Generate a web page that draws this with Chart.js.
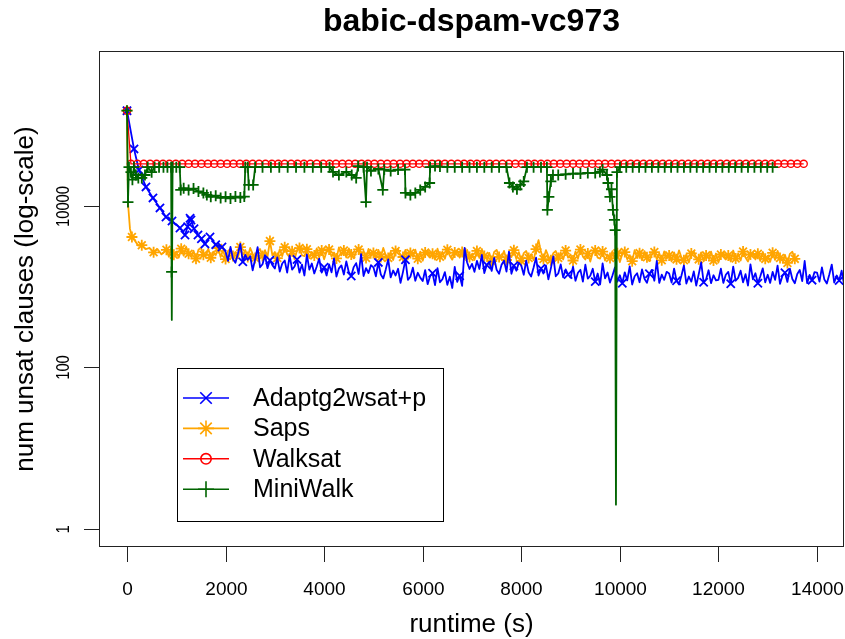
<!DOCTYPE html>
<html>
<head>
<meta charset="utf-8">
<title>babic-dspam-vc973</title>
<script src="https://cdn.jsdelivr.net/npm/chart.js@4.4.1/dist/chart.umd.min.js"></script>
<style>
  html, body { margin: 0; padding: 0; background: #fff; }
  canvas { display: block; }
</style>
</head>
<body>
<canvas id="chart" width="845" height="639"></canvas>
<script>
// Adaptg2wsat+p : temps (s) et nombre de clauses non satisfaites
const adaptTimes = [
  0, 142, 243, 385, 527, 669, 791, 913, 1075, 1177, 1230, 1280, 1298, 1360, 1440, 1510, 1582, 1684, 1800, 1927,
  2000, 2050, 2100, 2150, 2200, 2250, 2300, 2350, 2400, 2450, 2500, 2550, 2600, 2650, 2700, 2750, 2800, 2850, 2900, 2950,
  3000, 3050, 3100, 3150, 3200, 3250, 3300, 3350, 3400, 3450, 3500, 3550, 3600, 3650, 3700, 3750, 3800, 3850, 3900, 3950,
  4000, 4050, 4100, 4150, 4200, 4250, 4300, 4350, 4400, 4450, 4500, 4550, 4600, 4650, 4700, 4750, 4800, 4850, 4900, 4950,
  5000, 5050, 5100, 5150, 5200, 5250, 5300, 5350, 5400, 5450, 5500, 5550, 5600, 5650, 5700, 5750, 5800, 5850, 5900, 5950,
  6000, 6050, 6100, 6150, 6200, 6250, 6300, 6350, 6400, 6450, 6500, 6550, 6600, 6650, 6700, 6750, 6800, 6850, 6900, 6950,
  7000, 7050, 7100, 7150, 7200, 7250, 7300, 7350, 7400, 7450, 7500, 7550, 7600, 7650, 7700, 7750, 7800, 7850, 7900, 7950,
  8000, 8050, 8100, 8150, 8200, 8250, 8300, 8350, 8400, 8450, 8500, 8550, 8600, 8650, 8700, 8750, 8800, 8850, 8900, 8950,
  9000, 9050, 9100, 9150, 9200, 9250, 9300, 9350, 9400, 9450, 9500, 9550, 9600, 9650, 9700, 9750, 9800, 9850, 9900, 9950,
  10000, 10050, 10100, 10150, 10200, 10250, 10300, 10350, 10400, 10450, 10500, 10550, 10600, 10650, 10700, 10750, 10800, 10850, 10900, 10950,
  11000, 11050, 11100, 11150, 11200, 11250, 11300, 11350, 11400, 11450, 11500, 11550, 11600, 11650, 11700, 11750, 11800, 11850, 11900, 11950,
  12000, 12050, 12100, 12150, 12200, 12250, 12300, 12350, 12400, 12450, 12500, 12550, 12600, 12650, 12700, 12750, 12800, 12850, 12900, 12950,
  13000, 13050, 13100, 13150, 13200, 13250, 13300, 13350, 13400, 13450, 13500, 13550, 13600, 13650, 13700, 13750, 13800, 13850, 13900, 13950,
  14000, 14050, 14100, 14150, 14200, 14250, 14300, 14350, 14400, 14450, 14500, 14550
];
const adaptValues = [
  150000, 50500, 27700, 17100, 12500, 9400, 7270, 6480, 5310, 4350, 5500, 7000, 6670, 5200, 4350, 3900, 3370, 4110, 3300, 3090,
  2690, 2080, 3100, 2200, 1970, 2540, 3380, 2020, 2470, 2140, 2370, 1590, 2180, 3070, 1730, 1890, 2440, 1690, 2120, 1840,
  1670, 2290, 1530, 1930, 2100, 1490, 2420, 1620, 1770, 2160, 1490, 1870, 1370, 2490, 1620, 1930, 1450, 1770, 2220, 1490,
  1730, 1370, 1880, 1500, 2230, 1330, 1680, 1830, 1410, 2050, 1510, 1350, 1740, 1950, 1430, 2520, 1350, 1690, 1470, 1840,
  1730, 1340, 1990, 1410, 1260, 1630, 2170, 1300, 1580, 1370, 1660, 1110, 1520, 2150, 1210, 1320, 1710, 1180, 1480, 1290,
  1170, 1600, 1070, 1340, 1460, 1040, 1690, 1130, 1230, 1510, 1050, 1320, 960, 1750, 1140, 1360, 1020, 3000, 2000, 1650,
  1910, 1520, 2080, 1650, 2460, 1470, 1850, 2020, 1560, 2260, 1610, 1440, 1860, 2090, 1530, 2700, 1440, 1810, 1570, 1970,
  1820, 1400, 2090, 1490, 1330, 1720, 2280, 1370, 1670, 1450, 1830, 1230, 1680, 2360, 1340, 1450, 1880, 1300, 1630, 1410,
  1290, 1760, 1180, 1480, 1610, 1150, 1860, 1250, 1360, 1660, 1150, 1450, 1060, 1930, 1260, 1490, 1120, 1370, 1720, 1150,
  1380, 1100, 1500, 1190, 1780, 1060, 1340, 1460, 1130, 1630, 1250, 1110, 1440, 1610, 1180, 2080, 1110, 1400, 1210, 1520,
  1450, 1120, 1670, 1180, 1060, 1370, 1820, 1090, 1330, 1150, 1540, 1030, 1420, 1990, 1130, 1230, 1590, 1100, 1380, 1190,
  1210, 1660, 1110, 1400, 1520, 1080, 1760, 1180, 1280, 1570, 1130, 1420, 1030, 1880, 1230, 1460, 1100, 1340, 1680, 1130,
  1400, 1110, 1520, 1210, 1810, 1080, 1360, 1480, 1140, 1660, 1240, 1100, 1430, 1600, 1170, 2070, 1100, 1390, 1200, 1510,
  1490, 1150, 1720, 1220, 1090, 1410, 1870, 1120, 1370, 1190, 1570, 1050
];

// Saps
const sapsTimes = [
  0, 20, 60, 100, 160, 230, 300, 380, 460, 540, 620, 700,
  800, 850, 900, 950, 1000, 1050, 1100, 1150, 1200, 1250, 1300, 1350, 1400, 1450, 1500, 1550, 1600, 1650, 1700, 1750,
  1800, 1850, 1900, 1950, 2000, 2050, 2100, 2150, 2200, 2250, 2300, 2350, 2400, 2450, 2500, 2550, 2600, 2650, 2700, 2750,
  2800, 2850, 2900, 2950, 3000, 3050, 3100, 3150, 3200, 3250, 3300, 3350, 3400, 3450, 3500, 3550, 3600, 3650, 3700, 3750,
  3800, 3850, 3900, 3950, 4000, 4050, 4100, 4150, 4200, 4250, 4300, 4350, 4400, 4450, 4500, 4550, 4600, 4650, 4700, 4750,
  4800, 4850, 4900, 4950, 5000, 5050, 5100, 5150, 5200, 5250, 5300, 5350, 5400, 5450, 5500, 5550, 5600, 5650, 5700, 5750,
  5800, 5850, 5900, 5950, 6000, 6050, 6100, 6150, 6200, 6250, 6300, 6350, 6400, 6450, 6500, 6550, 6600, 6650, 6700, 6750,
  6800, 6850, 6900, 6950, 7000, 7050, 7100, 7150, 7200, 7250, 7300, 7350, 7400, 7450, 7500, 7550, 7600, 7650, 7700, 7750,
  7800, 7850, 7900, 7950, 8000, 8050, 8100, 8150, 8200, 8250, 8300, 8350, 8400, 8450, 8500, 8550, 8600, 8650, 8700, 8750,
  8800, 8850, 8900, 8950, 9000, 9050, 9100, 9150, 9200, 9250, 9300, 9350, 9400, 9450, 9500, 9550, 9600, 9650, 9700, 9750,
  9800, 9850, 9900, 9950, 10000, 10050, 10100, 10150, 10200, 10250, 10300, 10350, 10400, 10450, 10500, 10550, 10600, 10650, 10700, 10750,
  10800, 10850, 10900, 10950, 11000, 11050, 11100, 11150, 11200, 11250, 11300, 11350, 11400, 11450, 11500, 11550, 11600, 11650, 11700, 11750,
  11800, 11850, 11900, 11950, 12000, 12050, 12100, 12150, 12200, 12250, 12300, 12350, 12400, 12450, 12500, 12550, 12600, 12650, 12700, 12750,
  12800, 12850, 12900, 12950, 13000, 13050, 13100, 13150, 13200, 13250, 13300, 13350, 13400, 13450, 13500, 13550, 13600
];
const sapsValues = [
  150000, 10800, 5200, 4100, 3700, 3200, 3250, 2900, 3000, 2650, 2900, 2500,
  2850, 2340, 3020, 2470, 2700, 2270, 2940, 2410, 3110, 2550, 2340, 2770, 2210, 2850, 3020, 2470, 2410, 2940, 2270, 2700,
  2450, 3000, 2320, 2830, 2190, 2750, 2910, 2390, 2680, 2250, 3080, 2450, 2830, 2320, 3000, 2530, 2250, 2750, 2910, 2390,
  2820, 2310, 3650, 2440, 2670, 2250, 2900, 2380, 3070, 2520, 2310, 2740, 2180, 2820, 2990, 2440, 2380, 2900, 2250, 2670,
  2430, 2960, 2290, 2800, 2170, 2720, 2880, 2360, 2640, 2230, 3050, 2430, 2800, 2290, 2960, 2500, 2230, 2720, 2880, 2360,
  2760, 2260, 2920, 2390, 2600, 2190, 2840, 2320, 3000, 2460, 2260, 2680, 2130, 2760, 2920, 2390, 2320, 2840, 2190, 2600,
  2340, 2860, 2210, 2700, 2090, 2630, 2780, 2280, 2550, 2150, 2940, 2340, 2700, 2210, 2860, 2410, 2150, 2630, 2780, 2280,
  2680, 2190, 2840, 2320, 2530, 2130, 2760, 2260, 2920, 2390, 2190, 2610, 2070, 2680, 2840, 2320, 2260, 2760, 2130, 2530,
  2310, 2820, 2190, 2670, 2070, 2590, 2750, 2250, 2520, 2120, 2910, 3750, 2670, 2190, 2820, 2380, 2120, 2590, 2750, 2250,
  2640, 2160, 2790, 2280, 2490, 2100, 2710, 2220, 2870, 2350, 2160, 2560, 2040, 2640, 2790, 2280, 2220, 2710, 2100, 2490,
  2250, 2740, 2120, 2590, 2010, 2520, 2670, 2180, 2450, 2060, 2820, 2250, 2590, 2120, 2740, 2310, 2060, 2520, 2670, 2180,
  2570, 2110, 2720, 2230, 2430, 2050, 2650, 2170, 2800, 2290, 2110, 2500, 1990, 2570, 2720, 2230, 2170, 2650, 2050, 2430,
  2220, 2710, 2100, 2560, 1980, 2490, 2630, 2160, 2420, 2040, 2790, 2220, 2560, 2100, 2710, 2280, 2040, 2490, 2630, 2160,
  2540, 2080, 2690, 2200, 2400, 2020, 2610, 2140, 2760, 2260, 2080, 2470, 1960, 2540, 2690, 2200, 2140
];

// Walksat
const walksatTimes = [
  0, 80, 210, 340, 470, 600, 730, 860, 990, 1120,
  1250, 1380, 1510, 1640, 1770, 1900, 2030, 2160, 2290, 2420,
  2550, 2680, 2810, 2940, 3070, 3200, 3330, 3460, 3590, 3720,
  3850, 3980, 4110, 4240, 4370, 4500, 4630, 4760, 4890, 5020,
  5150, 5280, 5410, 5540, 5670, 5800, 5930, 6060, 6190, 6320,
  6450, 6580, 6710, 6840, 6970, 7100, 7230, 7360, 7490, 7620,
  7750, 7880, 8010, 8140, 8270, 8400, 8530, 8660, 8790, 8920,
  9050, 9180, 9310, 9440, 9570, 9700, 9830, 9960, 10090, 10220,
  10350, 10480, 10610, 10740, 10870, 11000, 11130, 11260, 11390, 11520,
  11650, 11780, 11910, 12040, 12170, 12300, 12430, 12560, 12690, 12820,
  12950, 13080, 13210, 13340, 13470, 13600, 13730
];
const walksatValues = [
  150000, 33000, 33000, 33000, 33000, 33000, 33000, 33000, 33000, 33000,
  33000, 33000, 33000, 33000, 33000, 33000, 33000, 33000, 33000, 33000,
  33000, 33000, 33000, 33000, 33000, 33000, 33000, 33000, 33000, 33000,
  33000, 33000, 33000, 33000, 33000, 33000, 33000, 33000, 33000, 33000,
  33000, 33000, 33000, 33000, 33000, 33000, 33000, 33000, 33000, 33000,
  33000, 33000, 33000, 33000, 33000, 33000, 33000, 33000, 33000, 33000,
  33000, 33000, 33000, 33000, 33000, 33000, 33000, 33000, 33000, 33000,
  33000, 33000, 33000, 33000, 33000, 33000, 33000, 33000, 33000, 33000,
  33000, 33000, 33000, 33000, 33000, 33000, 33000, 33000, 33000, 33000,
  33000, 33000, 33000, 33000, 33000, 33000, 33000, 33000, 33000, 33000,
  33000, 33000, 33000, 33000, 33000, 33000, 33000
];

// MiniWalk
const miniTimes = [
  0, 20, 40, 80, 110, 140, 180, 230, 300, 365,
  420, 500, 560, 650, 740, 820, 895, 905, 913, 925,
  1000, 1070, 1090, 1150, 1250, 1350, 1450, 1550, 1620, 1700,
  1800, 1900, 2000, 2100, 2200, 2300, 2380, 2400, 2450, 2470,
  2560, 2600, 2750, 2920, 3090, 3260, 3430, 3600, 3770, 3940,
  4110, 4180, 4300, 4450, 4560, 4650, 4690, 4800, 4849, 4870,
  4950, 5100, 5190, 5220, 5350, 5500, 5640, 5650, 5750, 5850,
  5950, 6050, 6140, 6150, 6250, 6350, 6500, 6650, 6800, 6950,
  7100, 7250, 7400, 7550, 7700, 7760, 7830, 7912, 7980, 8050,
  8115, 8250, 8400, 8520, 8530, 8560, 8600, 8643, 8750, 8900,
  9050, 9200, 9350, 9500, 9596, 9650, 9738, 9760, 9799, 9830,
  9860, 9890, 9905, 9921, 9941, 10002, 10130, 10260, 10390, 10520,
  10650, 10780, 10910, 11040, 11170, 11300, 11430, 11560, 11690, 11820,
  11950, 12080, 12210, 12340, 12470, 12600, 12730, 12860, 12990, 13100
];
const miniValues = [
  150000, 11100, 30000, 26000, 21000, 30000, 24000, 22100, 22100, 24000,
  30000, 26000, 30000, 30000, 30000, 30000, 30000, 1515, 386, 30000,
  30000, 30000, 15700, 16500, 15700, 16300, 15000, 14400, 13600, 12900,
  13300, 12500, 12900, 12300, 13000, 12600, 13000, 30000, 30000, 18100,
  18100, 30000, 30000, 30000, 30000, 30000, 30000, 30000, 30000, 30000,
  30000, 26200, 24000, 26200, 24000, 22100, 31000, 30000, 11100, 30000,
  27000, 28500, 15700, 28000, 27000, 28000, 28000, 14400, 13600, 14400,
  15700, 17100, 19100, 30000, 31000, 30500, 30000, 30000, 30000, 30000,
  30000, 30000, 30000, 30000, 30000, 19100, 17100, 16000, 18100, 20000,
  30000, 30000, 30000, 30000, 8870, 12900, 20000, 24000, 24000, 24500,
  25000, 25000, 25500, 25500, 26200, 28000, 24000, 19100, 12900, 16000,
  8870, 6670, 5000, 2, 26000, 30000, 30000, 30000, 30000, 30000,
  30000, 30000, 30000, 30000, 30000, 30000, 30000, 30000, 30000, 30000,
  30000, 30000, 30000, 30000, 30000, 30000, 30000, 30000, 30000, 30000
];

// graduations des axes
const xTicks = [0, 2000, 4000, 6000, 8000, 10000, 12000, 14000];
const yTicks = [1, 100, 10000];

const FONT = '"Liberation Sans", Arial, Helvetica, sans-serif';

function toPoints(times, values) {
    return times.map((t, i) => ({ x: t, y: values[i] }));
}

// dessine un symbole façon R (pour la légende)
function drawMarker(ctx, style, cx, cy, r) {
    ctx.beginPath();
    if (style === 'circle') {
        ctx.arc(cx, cy, r, 0, Math.PI * 2);
    }
    if (style === 'cross' || style === 'star') {
        ctx.moveTo(cx - r, cy); ctx.lineTo(cx + r, cy);
        ctx.moveTo(cx, cy - r); ctx.lineTo(cx, cy + r);
    }
    if (style === 'crossRot' || style === 'star') {
        const d = r * 0.72;
        ctx.moveTo(cx - d, cy - d); ctx.lineTo(cx + d, cy + d);
        ctx.moveTo(cx - d, cy + d); ctx.lineTo(cx + d, cy - d);
    }
    ctx.stroke();
}

// axes, titres et légende dans le style R
const rStyle = {
    id: 'rStyle',
    afterDraw(chart) {
        const { ctx, chartArea: a, scales } = chart;
        ctx.save();
        ctx.strokeStyle = '#222';
        ctx.fillStyle = '#000';
        ctx.lineWidth = 1;

        // cadre
        ctx.strokeRect(a.left + 0.5, a.top + 0.5, a.right - a.left - 1, a.bottom - a.top - 1);

        // axe x
        ctx.font = '19px ' + FONT;
        ctx.textAlign = 'center';
        ctx.textBaseline = 'middle';
        xTicks.forEach(v => {
            const px = Math.round(scales.x.getPixelForValue(v)) + 0.5;
            ctx.beginPath();
            ctx.moveTo(px, a.bottom);
            ctx.lineTo(px, a.bottom + 15);
            ctx.stroke();
            ctx.fillText(String(v), px, 590);
        });

        // axe y (étiquettes verticales, un peu resserrées)
        ctx.font = '19px ' + FONT;
        yTicks.forEach(v => {
            const py = Math.round(scales.y.getPixelForValue(v)) + 0.5;
            ctx.beginPath();
            ctx.moveTo(a.left - 15, py);
            ctx.lineTo(a.left, py);
            ctx.stroke();
            ctx.save();
            ctx.translate(64, py);
            ctx.rotate(-Math.PI / 2);
            ctx.scale(0.78, 1);
            ctx.fillText(String(v), 0, 0);
            ctx.restore();
        });

        // titres
        const midX = (a.left + a.right) / 2;
        const midY = (a.top + a.bottom) / 2;
        ctx.font = 'bold 32px ' + FONT;
        ctx.fillText('babic-dspam-vc973', midX, 22);
        ctx.font = '26px ' + FONT;
        ctx.fillText('runtime (s)', midX, 625);
        ctx.save();
        ctx.translate(26, midY);
        ctx.rotate(-Math.PI / 2);
        ctx.fillText('num unsat clauses (log-scale)', 0, 0);
        ctx.restore();

        // légende
        const box = { left: 177, top: 368, width: 266, height: 153 };
        ctx.fillStyle = '#fff';
        ctx.fillRect(box.left, box.top, box.width, box.height);
        ctx.strokeStyle = '#000';
        ctx.strokeRect(box.left + 0.5, box.top + 0.5, box.width, box.height);
        ctx.font = '25px ' + FONT;
        ctx.textAlign = 'left';
        chart.data.datasets.forEach((ds, i) => {
            const y = 398 + i * 30.4;
            ctx.strokeStyle = ds.borderColor;
            ctx.lineWidth = 1.6;
            ctx.beginPath();
            ctx.moveTo(183, y);
            ctx.lineTo(229, y);
            ctx.stroke();
            drawMarker(ctx, ds.pointStyle, 206, y, ds.pointStyle === 'circle' ? 5.2 : 8);
            ctx.fillStyle = '#000';
            ctx.fillText(ds.label, 253, y + 1);
        });
        ctx.restore();
    }
};

const config = {
    type: 'line',
    data: {
        datasets: [{
            label: 'Adaptg2wsat+p',
            data: toPoints(adaptTimes, adaptValues),
            borderColor: '#0000ff',
            borderWidth: 1.8,
            pointStyle: 'crossRot',
            pointRadius: c => (c.dataIndex < 20 || c.dataIndex % 11 === 5) ? 5.8 : 0,
            order: 2
        }, {
            label: 'Saps',
            data: toPoints(sapsTimes, sapsValues),
            borderColor: '#ffa500',
            borderWidth: 1.8,
            pointStyle: 'star',
            pointRadius: c => c.dataIndex % 3 === 0 ? 5.5 : 0,
            order: 3
        }, {
            label: 'Walksat',
            data: toPoints(walksatTimes, walksatValues),
            borderColor: '#ff0000',
            borderWidth: 1.3,
            pointStyle: 'circle',
            pointRadius: 3.6,
            order: 1
        }, {
            label: 'MiniWalk',
            data: toPoints(miniTimes, miniValues),
            borderColor: '#006400',
            borderWidth: 1.8,
            pointStyle: 'cross',
            pointRadius: c => c.parsed && c.parsed.y < 1000 ? 0 : 5.5,
            order: 0
        }]
    },
    options: {
        responsive: false,
        animation: false,
        events: [],
        layout: { autoPadding: false, padding: { left: 99, right: 1, top: 51, bottom: 92 } },
        elements: {
            line: { tension: 0, borderJoinStyle: 'round', fill: false },
            point: { borderWidth: 1.4, backgroundColor: 'rgba(0,0,0,0)', hoverRadius: 0 }
        },
        scales: {
            x: { type: 'linear', display: false, bounds: 'data', min: -568, max: 14548 },
            y: { type: 'logarithmic', display: false, bounds: 'data', min: 0.598, max: 822000 }
        },
        plugins: {
            legend: { display: false },
            tooltip: { enabled: false },
            title: { display: false }
        }
    },
    plugins: [rStyle]
};

new Chart(document.getElementById('chart').getContext('2d'), config);
</script>
</body>
</html>
